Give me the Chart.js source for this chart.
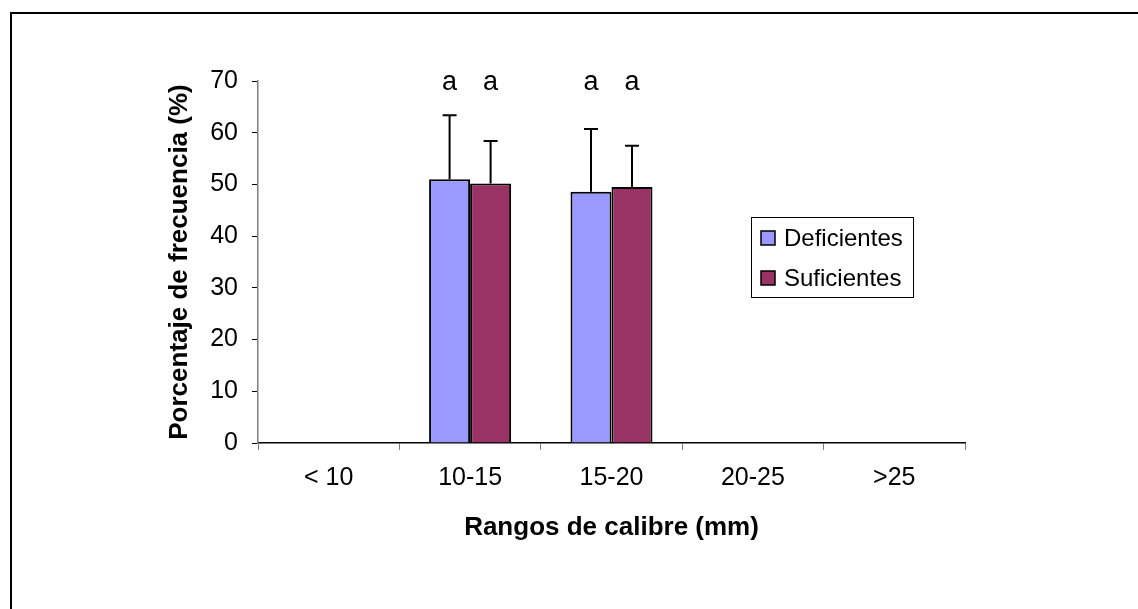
<!DOCTYPE html>
<html>
<head>
<meta charset="utf-8">
<script src="https://cdn.jsdelivr.net/npm/chart.js@4"></script>
<style>
  html, body { margin: 0; padding: 0; background: #fff; overflow: hidden; }
  #wrap { position: relative; width: 1138px; height: 609px; }
  #frame { position: absolute; left: 10px; top: 12px; right: -10px; bottom: -10px;
           border-left: 2px solid #000; border-top: 2px solid #000; pointer-events: none; }
  canvas { position: absolute; left: 0; top: 0; }
</style>
</head>
<body>
<div id="wrap">
  <canvas id="grafico" width="1138" height="609"></canvas>
  <div id="frame"></div>
</div>
<script>
const rangos = ['< 10', '10-15', '15-20', '20-25', '>25']
const deficientes = [0, 51.0, 48.6, 0, 0]
const suficientes = [0, 50.2, 49.5, 0, 0]
const desvDeficientes = [0, 12.4, 12.1, 0, 0]
const desvSuficientes = [0, 8.2, 8.0, 0, 0]
const letrasDeficientes = ['', 'a', 'a', '', '']
const letrasSuficientes = ['', 'a', 'a', '', '']
const yTicks = [0, 10, 20, 30, 40, 50, 60, 70]

const fuente = '"Liberation Sans", Arial, sans-serif'

// barras de error (solo hacia arriba) y letras de significancia
const errorBars = {
  id: 'errorBars',
  afterDatasetsDraw(chart) {
    const ctx = chart.ctx
    const y = chart.scales.y
    ctx.save()
    chart.data.datasets.forEach((ds, i) => {
      const meta = chart.getDatasetMeta(i)
      meta.data.forEach((bar, j) => {
        const sd = ds.sd[j]
        if (sd > 0) {
          const top = y.getPixelForValue(ds.data[j] + sd)
          ctx.strokeStyle = '#000'
          ctx.lineWidth = 2
          ctx.beginPath()
          ctx.moveTo(bar.x, bar.y)
          ctx.lineTo(bar.x, top)
          ctx.moveTo(bar.x - 7, top)
          ctx.lineTo(bar.x + 7, top)
          ctx.stroke()
        }
        const letra = ds.letras[j]
        if (letra) {
          ctx.fillStyle = '#000'
          ctx.font = '27px ' + fuente
          ctx.textAlign = 'center'
          ctx.textBaseline = 'alphabetic'
          ctx.fillText(letra, bar.x, y.getPixelForValue(70) + 9)
        }
      })
    })
    ctx.restore()
  }
}

// leyenda con recuadro dentro del área del gráfico
const leyenda = {
  id: 'leyenda',
  afterDraw(chart, args, opts) {
    const ctx = chart.ctx
    ctx.save()
    ctx.strokeStyle = '#000'
    ctx.lineWidth = 1
    ctx.strokeRect(opts.x + 0.5, opts.y + 0.5, opts.w, opts.h)
    ctx.font = '24px ' + fuente
    ctx.textBaseline = 'middle'
    ctx.textAlign = 'left'
    chart.data.datasets.forEach((ds, i) => {
      const cy = opts.y + 21 + i * 40
      ctx.fillStyle = ds.backgroundColor
      ctx.fillRect(opts.x + 10, cy - 7, 14, 14)
      ctx.lineWidth = 1.5
      ctx.strokeRect(opts.x + 10, cy - 7, 14, 14)
      ctx.fillStyle = '#000'
      ctx.fillText(ds.label, opts.x + 33, cy + 1)
    })
    ctx.restore()
  }
}

new Chart(document.querySelector('#grafico'), {
  type: 'bar',
  data: {
    labels: rangos,
    datasets: [
      {
        label: 'Deficientes',
        data: deficientes,
        sd: desvDeficientes,
        letras: letrasDeficientes,
        backgroundColor: '#9999FF',
        borderColor: '#000',
        borderWidth: 2
      },
      {
        label: 'Suficientes',
        data: suficientes,
        sd: desvSuficientes,
        letras: letrasSuficientes,
        backgroundColor: '#993366',
        borderColor: '#000',
        borderWidth: 2
      }
    ]
  },
  options: {
    responsive: false,
    animation: false,
    layout: { padding: { left: 150, top: 81, right: 173, bottom: 0 } },
    categoryPercentage: 0.58,
    barPercentage: 1.0,
    plugins: {
      legend: { display: false },
      tooltip: { enabled: false },
      leyenda: { x: 751, y: 217, w: 162, h: 80 }
    },
    scales: {
      x: {
        afterFit(scale) { scale.height = 166 },
        grid: {
          offset: true,
          drawOnChartArea: false,
          tickLength: 7,
          color: '#808080'
        },
        border: { color: '#000', width: 1.5 },
        ticks: { color: '#000', padding: 13, font: { family: fuente, size: 25 } },
        title: {
          display: true,
          text: 'Rangos de calibre (mm)',
          color: '#000',
          font: { family: fuente, size: 26, weight: 'bold' },
          padding: { bottom: 66 }
        }
      },
      y: {
        min: 0,
        max: 70,
        afterFit(scale) { scale.width = 108 },
        afterBuildTicks(scale) { scale.ticks = yTicks.map(v => ({ value: v })) },
        grid: { drawOnChartArea: false, tickLength: 6, color: '#000' },
        border: { color: '#808080', width: 1.5 },
        ticks: { color: '#000', padding: 14, font: { family: fuente, size: 25 } },
        title: {
          display: true,
          text: 'Porcentaje de frecuencia (%)',
          color: '#000',
          font: { family: fuente, size: 26, weight: 'bold' },
          padding: { top: 14 }
        }
      }
    }
  },
  plugins: [errorBars, leyenda]
})
</script>
</body>
</html>
